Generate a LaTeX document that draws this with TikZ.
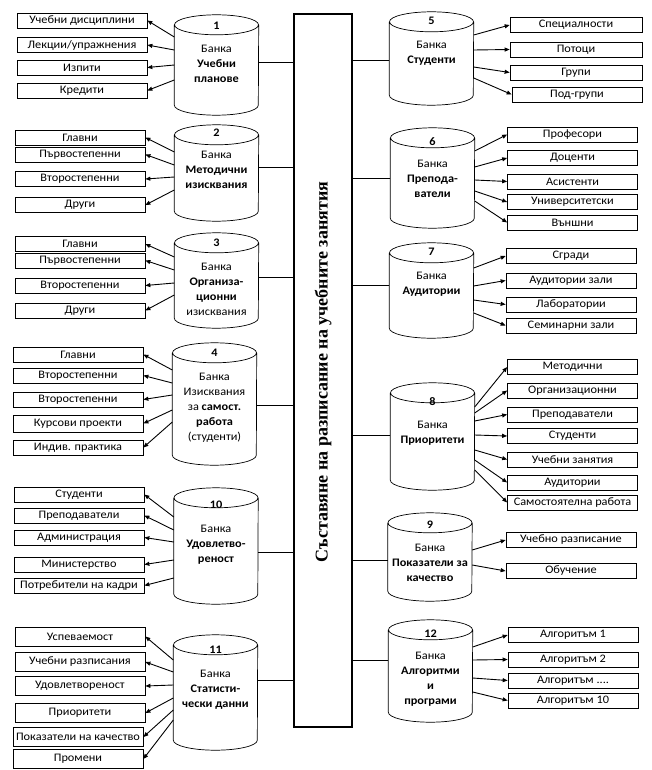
\documentclass[tikz,border=0pt]{standalone}
\usepackage{fontspec}
\setmainfont{Carlito}[FakeStretch=1.07]
\newfontfamily\titlefont{Liberation Serif}
\usetikzlibrary{arrows.meta}

\begin{document}
\begin{tikzpicture}[x=1pt,y=-1pt,font=\fontsize{11.5}{15}\selectfont,
        bank/.style={rectangle, minimum width=84pt, inner sep=0pt},
        tank/.style={line width=0.7pt},
        banktext/.style={anchor=north, align=center, inner sep=0pt},
        item/.style={draw, rectangle, minimum width=130pt, minimum height=15pt, inner sep=1pt, line width=0.7pt},
        arr/.style={-{Triangle[length=5pt,width=4pt]}, line width=0.9pt},
        link/.style={line width=0.6pt}]
                \useasboundingbox (0,0) rectangle (651,770);
                \node[draw, line width=2pt, minimum width=58pt, minimum height=713pt, inner sep=0pt] (main) at (323,370.5) {};
                \node[rotate=90, font=\titlefont\bfseries\fontsize{18}{18}\selectfont] (title) at (323,372) {Съставяне на разписание на учебните занятия};

                \node[bank, minimum height=100pt] (bank1) at (216.5,65) {};
                \node[banktext] (lbl1) at (216.5,22) {\textbf{1}\\[8pt]Банка\\\textbf{Учебни}\\\textbf{планове}};
                \node[item] (u1) at (82,20.5) {Учебни дисциплини};
                \node[item] (u2) at (82,45) {Лекции/упражнения};
                \node[item] (u3) at (82,67.5) {Изпити};
                \node[item] (u4) at (82,90.5) {Кредити};

                \node[bank, minimum height=96pt] (bank2) at (216.5,173) {};
                \node[banktext] (lbl2) at (216.5,129) {\textbf{2}\\[7pt]Банка\\\textbf{Методични}\\\textbf{изисквания}};
                \node[item] (m1) at (80,137.5) {Главни};
                \node[item] (m2) at (80,154.5) {Първостепенни};
                \node[item] (m3) at (80,179) {Второстепенни};
                \node[item] (m4) at (80,205) {Други};

                \node[bank, minimum height=95pt] (bank3) at (216.5,280.5) {};
                \node[banktext] (lbl3) at (216.5,239) {\textbf{3}\\[9pt]Банка\\\textbf{Организа-}\\\textbf{ционни}\\изисквания};
                \node[item] (o1) at (80,244) {Главни};
                \node[item] (o2) at (80,260.5) {Първостепенни};
                \node[item] (o3) at (80,285.5) {Второстепенни};
                \node[item] (o4) at (80,310.5) {Други};

                \node[bank, minimum height=122pt] (bank4) at (214.5,404) {};
                \node[banktext] (lbl4) at (214.5,349) {\textbf{4}\\[9pt]Банка\\Изисквания\\за \textbf{самост.}\\\textbf{работа}\\(студенти)};
                \node[item] (s1) at (78,354.5) {Главни};
                \node[item] (s2) at (78,375.5) {Второстепенни};
                \node[item] (s3) at (78,399.5) {Второстепенни};
                \node[item, minimum height=17pt] (s4) at (78,423.5) {Курсови проекти};
                \node[item] (s5) at (78,447.5) {Индив. практика};

                \node[bank, minimum height=116pt] (bank10) at (216,546) {};
                \node[banktext] (lbl10) at (216,501) {\textbf{10}\\[9pt]Банка\\\textbf{Удовлетво-}\\\textbf{реност}};
                \node[item] (d1) at (79,494.5) {Студенти};
                \node[item] (d2) at (79,515.5) {Преподаватели};
                \node[item] (d3) at (79,537.5) {Администрация};
                \node[item] (d4) at (79,564.5) {Министерство};
                \node[item] (d5) at (79,585.5) {Потребители на кадри};

                \node[bank, minimum height=115pt] (bank11) at (215.5,692.5) {};
                \node[banktext] (lbl11) at (215.5,646) {\textbf{11}\\[9pt]Банка\\\textbf{Статисти-}\\\textbf{чески данни}};
                \node[item, minimum height=19pt] (t1) at (80,636.5) {Успеваемост};
                \node[item, minimum height=19pt] (t2) at (80,662) {Учебни разписания};
                \node[item, minimum height=19pt] (t3) at (80,686) {Удовлетвореност};
                \node[item, minimum height=19pt] (t4) at (80,713) {Приоритети};
                \node[item, minimum height=19pt] (t5) at (78,737) {Показатели на качество};
                \node[item, minimum height=19pt] (t6) at (78,759) {Промени};

                \node[bank, minimum height=93pt] (bank5) at (431.5,58.5) {};
                \node[banktext] (lbl5) at (431.5,17) {\textbf{5}\\[9pt]Банка\\\textbf{Студенти}};
                \node[item, minimum width=132pt] (st1) at (576,25) {Специалности};
                \node[item, minimum width=132pt] (st2) at (576,49.5) {Потоци};
                \node[item, minimum width=132pt] (st3) at (576,72.5) {Групи};
                \node[item, minimum width=130pt] (st4) at (577,94.5) {Под-групи};

                \node[bank, minimum height=100pt] (bank6) at (432.5,178) {};
                \node[banktext] (lbl6) at (432.5,137) {\textbf{6}\\[7pt]Банка\\\textbf{Препода-}\\\textbf{ватели}};
                \node[item] (p1) at (572.5,134.5) {Професори};
                \node[item] (p2) at (572.5,158) {Доценти};
                \node[item] (p3) at (572.5,181.5) {Асистенти};
                \node[item] (p4) at (572.5,202) {Университетски};
                \node[item] (p5) at (572.5,222.5) {Външни};

                \node[bank, minimum height=95pt] (bank7) at (431.5,290.5) {};
                \node[banktext] (lbl7) at (431.5,248) {\textbf{7}\\[9pt]Банка\\\textbf{Аудитории}};
                \node[item] (au1) at (571,256) {Сгради};
                \node[item] (au2) at (571,280.5) {Аудитории зали};
                \node[item] (au3) at (571,304.5) {Лаборатории};
                \node[item] (au4) at (571,325.5) {Семинарни зали};

                \node[bank, minimum height=107pt] (bank8) at (432.5,436.5) {};
                \node[banktext] (lbl8) at (432.5,397) {\textbf{8}\\[8pt]Банка\\\textbf{Приоритети}};
                \node[item] (pr1) at (572.5,367) {Методични};
                \node[item] (pr2) at (572.5,390.5) {Организационни};
                \node[item] (pr3) at (572.5,414.5) {Преподаватели};
                \node[item] (pr4) at (572.5,436) {Студенти};
                \node[item] (pr5) at (572.5,459.5) {Учебни занятия};
                \node[item] (pr6) at (572.5,482.5) {Аудитории};
                \node[item] (pr7) at (572.5,502.5) {Самостоятелна работа};

                \node[bank, minimum height=88pt] (bank9) at (430,557) {};
                \node[banktext] (lbl9) at (430,521) {\textbf{9}\\[8pt]Банка\\\textbf{Показатели за}\\\textbf{качество}};
                \node[item] (k1) at (571,540) {Учебно разписание};
                \node[item] (k2) at (571,571) {Обучение};

                \node[bank, minimum height=102pt] (bank12) at (430.5,671) {};
                \node[banktext] (lbl12) at (430.5,630) {\textbf{12}\\[7pt]Банка\\\textbf{Алгоритми}\\\textbf{и}\\\textbf{програми}};
                \node[item] (al1) at (573,635) {Алгоритъм 1};
                \node[item] (al2) at (573,659.5) {Алгоритъм 2};
                \node[item] (al3) at (573,680.5) {Алгоритъм ....};
                \node[item] (al4) at (573,700.5) {Алгоритъм 10};

                \foreach \b in {bank1,bank2,bank3,bank4,bank10,bank11,bank5,bank6,bank7,bank8,bank9,bank12}
                    \draw[tank] ([yshift=-10pt]\b.north west) -- ([yshift=10pt]\b.south west)
                        arc[start angle=180, end angle=360, x radius=42pt, y radius=10pt]
                        -- ([yshift=-10pt]\b.north east)
                        ([yshift=-10pt]\b.north) ellipse[x radius=42pt, y radius=10pt];

                \draw[link] ([yshift=3pt]bank1.east) -- ([yshift=3pt]bank1.east -| main.west);
                \draw[link] ([yshift=6pt]bank2.east) -- ([yshift=6pt]bank2.east -| main.west);
                \draw[link] ([yshift=3.5pt]bank3.east) -- ([yshift=3.5pt]bank3.east -| main.west);
                \draw[link] ([yshift=-1pt]bank4.east) -- ([yshift=-1pt]bank4.east -| main.west);
                \draw[link] ([yshift=-6pt]bank10.east) -- ([yshift=-6pt]bank10.east -| main.west);
                \draw[link] ([yshift=12.5pt]bank11.east) -- ([yshift=12.5pt]bank11.east -| main.west);
                \draw[link] ([yshift=-1.5pt]bank5.west) -- ([yshift=-1.5pt]bank5.west -| main.east);
                \draw[link] (bank6.west) -- (bank6.west -| main.east);
                \draw[link] ([yshift=5.5pt]bank7.west) -- ([yshift=5.5pt]bank7.west -| main.east);
                \draw[link] ([yshift=1.5pt]bank8.west) -- ([yshift=1.5pt]bank8.west -| main.east);
                \draw[link] ([yshift=-3pt]bank9.west) -- ([yshift=-3pt]bank9.west -| main.east);
                \draw[link] ([yshift=11pt]bank12.west) -- ([yshift=11pt]bank12.west -| main.east);

                \draw[arr] ([yshift=28pt]bank1.west) -- (u1.east);
                \draw[arr] ([yshift=15pt]bank1.west) -- (u2.east);
                \draw[arr] (bank1.west) -- (u3.east);
                \draw[arr] ([yshift=-15pt]bank1.west) -- (u4.east);
                \draw[arr] ([yshift=21pt]bank2.west) -- (m1.east);
                \draw[arr] ([yshift=8pt]bank2.west) -- (m2.east);
                \draw[arr] ([yshift=-4pt]bank2.west) -- (m3.east);
                \draw[arr] ([yshift=-17pt]bank2.west) -- (m4.east);
                \draw[arr] ([yshift=23.5pt]bank3.west) -- (o1.east);
                \draw[arr] ([yshift=10.5pt]bank3.west) -- (o2.east);
                \draw[arr] ([yshift=-2.5pt]bank3.west) -- (o3.east);
                \draw[arr] ([yshift=-14.5pt]bank3.west) -- (o4.east);
                \draw[arr] ([yshift=34pt]bank4.west) -- (s1.east);
                \draw[arr] ([yshift=21pt]bank4.west) -- (s2.east);
                \draw[arr] ([yshift=9pt]bank4.west) -- (s3.east);
                \draw[arr] ([yshift=-6pt]bank4.west) -- (s4.east);
                \draw[arr] ([yshift=-18pt]bank4.west) -- (s5.east);
                \draw[arr] ([yshift=29pt]bank10.west) -- (d1.east);
                \draw[arr] ([yshift=16pt]bank10.west) -- (d2.east);
                \draw[arr] ([yshift=4pt]bank10.west) -- (d3.east);
                \draw[arr] ([yshift=-14pt]bank10.west) -- (d4.east);
                \draw[arr] ([yshift=-32pt]bank10.west) -- (d5.east);
                \draw[arr] ([yshift=32.5pt]bank11.west) -- (t1.east);
                \draw[arr] ([yshift=20.5pt]bank11.west) -- (t2.east);
                \draw[arr] ([yshift=7.5pt]bank11.west) -- (t3.east);
                \draw[arr] ([yshift=-5.5pt]bank11.west) -- (t4.east);
                \draw[arr] ([yshift=-17.5pt]bank11.west) -- (t5.east);
                \draw[arr] ([yshift=-27.5pt]bank11.west) -- (t6.east);

                \draw[arr] ([yshift=23.5pt]bank5.east) -- (st1.west);
                \draw[arr] ([yshift=8.5pt]bank5.east) -- (st2.west);
                \draw[arr] ([yshift=-8.5pt]bank5.east) -- (st3.west);
                \draw[arr] ([yshift=-19.5pt]bank5.east) -- (st4.west);
                \draw[arr] ([yshift=27pt]bank6.east) -- (p1.west);
                \draw[arr] ([yshift=11pt]bank6.east) -- (p2.west);
                \draw[arr] ([yshift=-2pt]bank6.east) -- (p3.west);
                \draw[arr] ([yshift=-13pt]bank6.east) -- (p4.west);
                \draw[arr] ([yshift=-23pt]bank6.east) -- (p5.west);
                \draw[arr] ([yshift=22.5pt]bank7.east) -- (au1.west);
                \draw[arr] ([yshift=4.5pt]bank7.east) -- (au2.west);
                \draw[arr] ([yshift=-9.5pt]bank7.east) -- (au3.west);
                \draw[arr] ([yshift=-22.5pt]bank7.east) -- (au4.west);
                \draw[arr] ([yshift=29.5pt]bank8.east) -- (pr1.west);
                \draw[arr] ([yshift=23.5pt]bank8.east) -- (pr2.west);
                \draw[arr] ([yshift=15.5pt]bank8.east) -- (pr3.west);
                \draw[arr] ([yshift=1.5pt]bank8.east) -- (pr4.west);
                \draw[arr] ([yshift=-13.5pt]bank8.east) -- (pr5.west);
                \draw[arr] ([yshift=-23.5pt]bank8.east) -- (pr6.west);
                \draw[arr] ([yshift=-33.5pt]bank8.east) -- (pr7.west);
                \draw[arr] ([yshift=7pt]bank9.east) -- (k1.west);
                \draw[arr] ([yshift=-8pt]bank9.east) -- (k2.west);
                \draw[arr] ([yshift=24pt]bank12.east) -- (al1.west);
                \draw[arr] ([yshift=11pt]bank12.east) -- (al2.west);
                \draw[arr] ([yshift=-7pt]bank12.east) -- (al3.west);
                \draw[arr] ([yshift=-21pt]bank12.east) -- (al4.west);
            \end{tikzpicture}
\end{document}
